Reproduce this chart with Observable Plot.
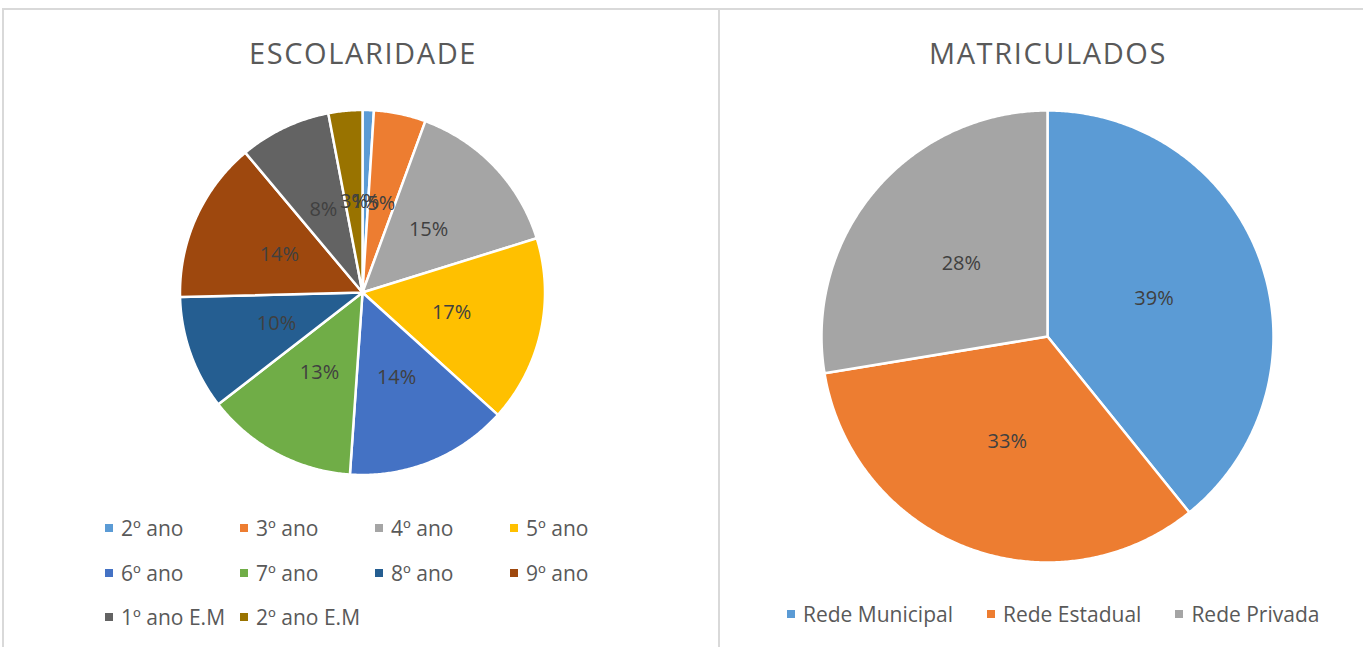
<!DOCTYPE html>
<html><head><meta charset="utf-8">
<script src="https://cdn.jsdelivr.net/npm/d3@7"></script>
<script src="https://cdn.jsdelivr.net/npm/@observablehq/plot@0.6"></script>
<style>
body{margin:0;background:#fff;font-family:"Open Sans",sans-serif;}
#root{position:relative;width:1363px;height:647px;overflow:hidden;background:#fff;}
.panel{position:absolute;border-top:2px solid #d9d9d9;border-left:2px solid #d9d9d9;box-sizing:border-box;}
.title{position:absolute;font-size:29px;font-weight:400;letter-spacing:1.6px;color:#595959;text-align:center;line-height:36px;width:500px;}
.legitem{position:absolute;display:flex;align-items:center;height:30px;font-size:21px;color:#595959;white-space:nowrap;}
.sw{display:inline-block;width:8px;height:8px;margin-right:8px;}
.legrow{position:absolute;display:flex;align-items:center;gap:34px;height:30px;font-size:21px;color:#595959;white-space:nowrap;}
.legrow div{display:flex;align-items:center;}
.chart{position:absolute;}
</style></head>
<body>
<div id="root">
  <div class="panel" style="left:2px;top:8px;width:718px;height:660px;"></div>
  <div class="panel" style="left:718px;top:8px;width:700px;height:660px;"></div>
  <div class="title" style="left:113px;top:35px;">ESCOLARIDADE</div>
  <div class="title" style="left:798px;top:35px;">MATRICULADOS</div>
  <div id="leftChart" class="chart" style="left:152px;top:82px;"></div>
  <div id="rightChart" class="chart" style="left:807px;top:96px;"></div>
  <div id="leftLegend"></div>
  <div id="rightLegend" class="legrow" style="left:787px;top:599px;"></div>
</div>
<script>
const escCategories = ["2º ano","3º ano","4º ano","5º ano","6º ano","7º ano","8º ano","9º ano","1º ano E.M","2º ano E.M"];
const escValues = [1.0,4.6,14.6,16.5,14.4,13.4,10.1,14.3,8.1,3.0];
const escColors = ["#5B9BD5","#ED7D31","#A5A5A5","#FFC000","#4472C4","#70AD47","#255E91","#9E480E","#636363","#997300"];

const matCategories = ["Rede Municipal","Rede Estadual","Rede Privada"];
const matValues = [39.2,33.2,27.6];
const matColors = ["#5B9BD5","#ED7D31","#A5A5A5"];

function buildPie(cats, vals){
  const total = d3.sum(vals);
  const arcs = d3.pie().sort(null).value(d => d.v)(cats.map((c,i) => ({c, v: vals[i]})));
  const poly = [], labels = [];
  arcs.forEach(s => {
    const n = Math.max(2, Math.ceil((s.endAngle - s.startAngle) / 0.008));
    poly.push({c: s.data.c, x: 0, y: 0});
    for (let k = 0; k <= n; k++) {
      const a = s.startAngle + (s.endAngle - s.startAngle) * k / n;
      poly.push({c: s.data.c, x: Math.sin(a), y: Math.cos(a)});
    }
    poly.push({c: s.data.c, x: 0, y: 0});
    const m = (s.startAngle + s.endAngle) / 2;
    const pct = Math.round(Math.round(s.data.v / total * 1000) / 10);
    labels.push({c: s.data.c, x: 0.5 * Math.sin(m), y: 0.5 * Math.cos(m), t: pct + "%"});
  });
  return {poly, labels};
}

function drawPie(el, cats, vals, colors, radius, size){
  const {poly, labels} = buildPie(cats, vals);
  const e = size / 2 / radius;
  const chart = Plot.plot({
    width: size, height: size,
    margin: 0,
    x: {domain: [-e, e], axis: null},
    y: {domain: [-e, e], axis: null},
    color: {domain: cats, range: colors},
    marks: [
      Plot.line(poly, {x: "x", y: "y", z: "c", fill: "c", stroke: "white", strokeWidth: 2.5, curve: "linear", strokeLinejoin: "round"}),
      Plot.text(labels, {x: "x", y: "y", text: "t", fill: "#404040", fontSize: 20, fontFamily: "Open Sans"})
    ]
  });
  chart.style.background = "transparent";
  document.getElementById(el).appendChild(chart);
}

drawPie("leftChart", escCategories, escValues, escColors, 182.5, 420);
drawPie("rightChart", matCategories, matValues, matColors, 226, 480);

const ll = document.getElementById("leftLegend");
escCategories.forEach((c, i) => {
  const col = i % 4, row = Math.floor(i / 4);
  const d = document.createElement("div");
  d.className = "legitem";
  d.style.left = (105 + col * 135) + "px";
  d.style.top = (513 + row * 44.5) + "px";
  d.innerHTML = `<span class="sw" style="background:${escColors[i]}"></span>${c}`;
  ll.appendChild(d);
});
const rl = document.getElementById("rightLegend");
matCategories.forEach((c, i) => {
  const d = document.createElement("div");
  d.innerHTML = `<span class="sw" style="background:${matColors[i]}"></span>${c}`;
  rl.appendChild(d);
});
</script>
</body></html>
